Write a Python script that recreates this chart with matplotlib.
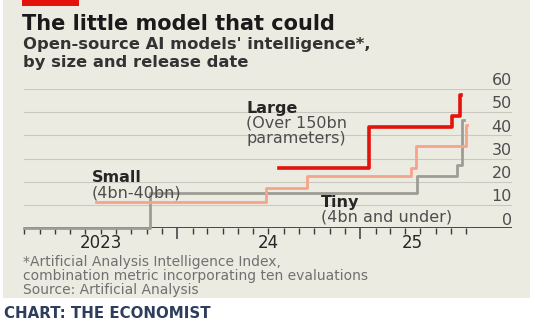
import numpy as np
import matplotlib
matplotlib.use("Agg")
import matplotlib.pyplot as plt
import matplotlib.dates as mdates
from matplotlib.patches import Rectangle

# ── Data: step changes in best open-source score, per size class ──────────────
tiny_dates = np.array(["2023-03-01", "2023-11-08", "2025-04-25", "2025-07-13",
                       "2025-07-24", "2025-07-27"], dtype="datetime64[D]")
tiny_vals = [0, 15, 22.4, 27, 46.5, 46.5]

small_dates = np.array(["2023-07-22", "2024-06-27", "2024-09-17", "2025-04-13",
                        "2025-04-23", "2025-07-31", "2025-08-02"], dtype="datetime64[D]")
small_vals = [11.2, 17.4, 22.6, 25.7, 35.3, 44.4, 44.4]

large_dates = np.array(["2024-07-22", "2025-01-19", "2025-07-04", "2025-07-19",
                        "2025-07-21"], dtype="datetime64[D]")
large_vals = [25.7, 43.8, 48.3, 57.3, 57.3]

y_ticks = [0, 10, 20, 30, 40, 50, 60]
year_labels = ["2023", "24", "25"]
year_label_dates = np.array(["2023-08-01", "2024-07-01", "2025-04-16"],
                            dtype="datetime64[D]")

# ── Style ─────────────────────────────────────────────────────────────────────
BG      = "#ebebe2"
RED     = "#e3120b"
SALMON  = "#f7a389"
GREY    = "#9d9d96"
GRID    = "#c9c9c1"
TXT     = "#262626"
TXT2    = "#4d4d4d"
FOOT    = "#707070"

plt.rcParams["font.family"] = ["DejaVu Sans"]

W, H = 543, 327
fig = plt.figure(figsize=(W / 100, H / 100), dpi=100)
fig.patch.set_facecolor("white")

def px(x, y):
    return x / W, 1 - y / H

# beige panel and red tag (behind the axes)
fig.patches.append(Rectangle(px(3, 298), 527 / W, 298 / H, transform=fig.transFigure,
                             facecolor=BG, edgecolor="none", zorder=-2))
fig.patches.append(Rectangle(px(22, 6), 57 / W, 6 / H, transform=fig.transFigure,
                             facecolor=RED, edgecolor="none", zorder=-1))

# axes spans x 24..512 px, y 228 (0) .. 89 (60)
l, b = px(24, 228)
r, t = px(512, 89)
ax = fig.add_axes([l, b, r - l, t - b])
ax.set_facecolor("none")
x0 = np.datetime64("2023-03-01")
x1 = np.datetime64("2025-11-01")
ax.set_xlim(x0, x1)
ax.set_ylim(0, 60)
for s in ax.spines.values():
    s.set_visible(False)
ax.set_yticks([])

for v in y_ticks[1:]:
    ax.axhline(v, color=GRID, lw=0.8, zorder=1)
    ax.text(1.0, v + 0.3, str(v), transform=ax.get_yaxis_transform(),
            ha="right", va="bottom", fontsize=11.5, color=TXT2)
ax.text(1.0, 0.1, "0", transform=ax.get_yaxis_transform(),
        ha="right", va="bottom", fontsize=11.5, color=TXT2)
ax.axhline(0, color="#3a3a3a", lw=1.3, zorder=2)

# monthly ticks below the zero line, longer at year boundaries
months = np.arange(np.datetime64("2023-03"), np.datetime64("2025-09"),
                   dtype="datetime64[M]").astype("datetime64[D]")
years = np.array(["2024-01-01", "2025-01-01"], dtype="datetime64[D]")
ax.set_xticks(mdates.date2num(years))
ax.set_xticks(mdates.date2num(months), minor=True)
ax.tick_params(axis="x", which="major", length=8, width=1.1, color="#3a3a3a",
               labelbottom=False)
ax.tick_params(axis="x", which="minor", length=4.5, width=1.0, color="#3a3a3a")
for d, lab in zip(year_label_dates, year_labels):
    ax.text(d, -2.6, lab, ha="center", va="top", fontsize=12, color=TXT)

ax.step(tiny_dates, tiny_vals, where="post", color=GREY, lw=2.0, zorder=3,
        clip_on=False)
ax.step(small_dates, small_vals, where="post", color=SALMON, lw=2.0, zorder=4,
        clip_on=False)
ax.step(large_dates, large_vals, where="post", color=RED, lw=2.6, zorder=5,
        clip_on=False)

# series labels
def label(x, y, head, subs):
    fig.text(*px(x, y), head, ha="left", va="center", fontsize=11.5,
             fontweight="bold", color=TXT)
    for i, s in enumerate(subs):
        fig.text(*px(x, y + 14.5 * (i + 1)), s, ha="left", va="center",
                 fontsize=11.5, color=TXT2)

label(246, 109, "Large", ["(Over 150bn", "parameters)"])
label(92, 178, "Small", ["(4bn-40bn)"])
label(321, 203, "Tiny", ["(4bn and under)"])

# titles
fig.text(*px(22, 24), "The little model that could", ha="left", va="center",
         fontsize=15, fontweight="bold", color="#1a1a1a")
fig.text(*px(23, 44), "Open-source AI models' intelligence*,", ha="left",
         va="center", fontsize=11.8, fontweight="bold", color="#333333")
fig.text(*px(23, 63), "by size and release date", ha="left",
         va="center", fontsize=11.8, fontweight="bold", color="#333333")

# footnotes
foot = ["*Artificial Analysis Intelligence Index,",
        "combination metric incorporating ten evaluations",
        "Source: Artificial Analysis"]
for i, line in enumerate(foot):
    fig.text(*px(23, 262 + i * 13.8), line, ha="left", va="center",
             fontsize=10, color=FOOT)

fig.text(*px(4, 314), "CHART: THE ECONOMIST", ha="left", va="center",
         fontsize=10.8, fontweight="bold", color="#2e3d5c")

fig.savefig("out.png", dpi=100, facecolor=fig.get_facecolor())
